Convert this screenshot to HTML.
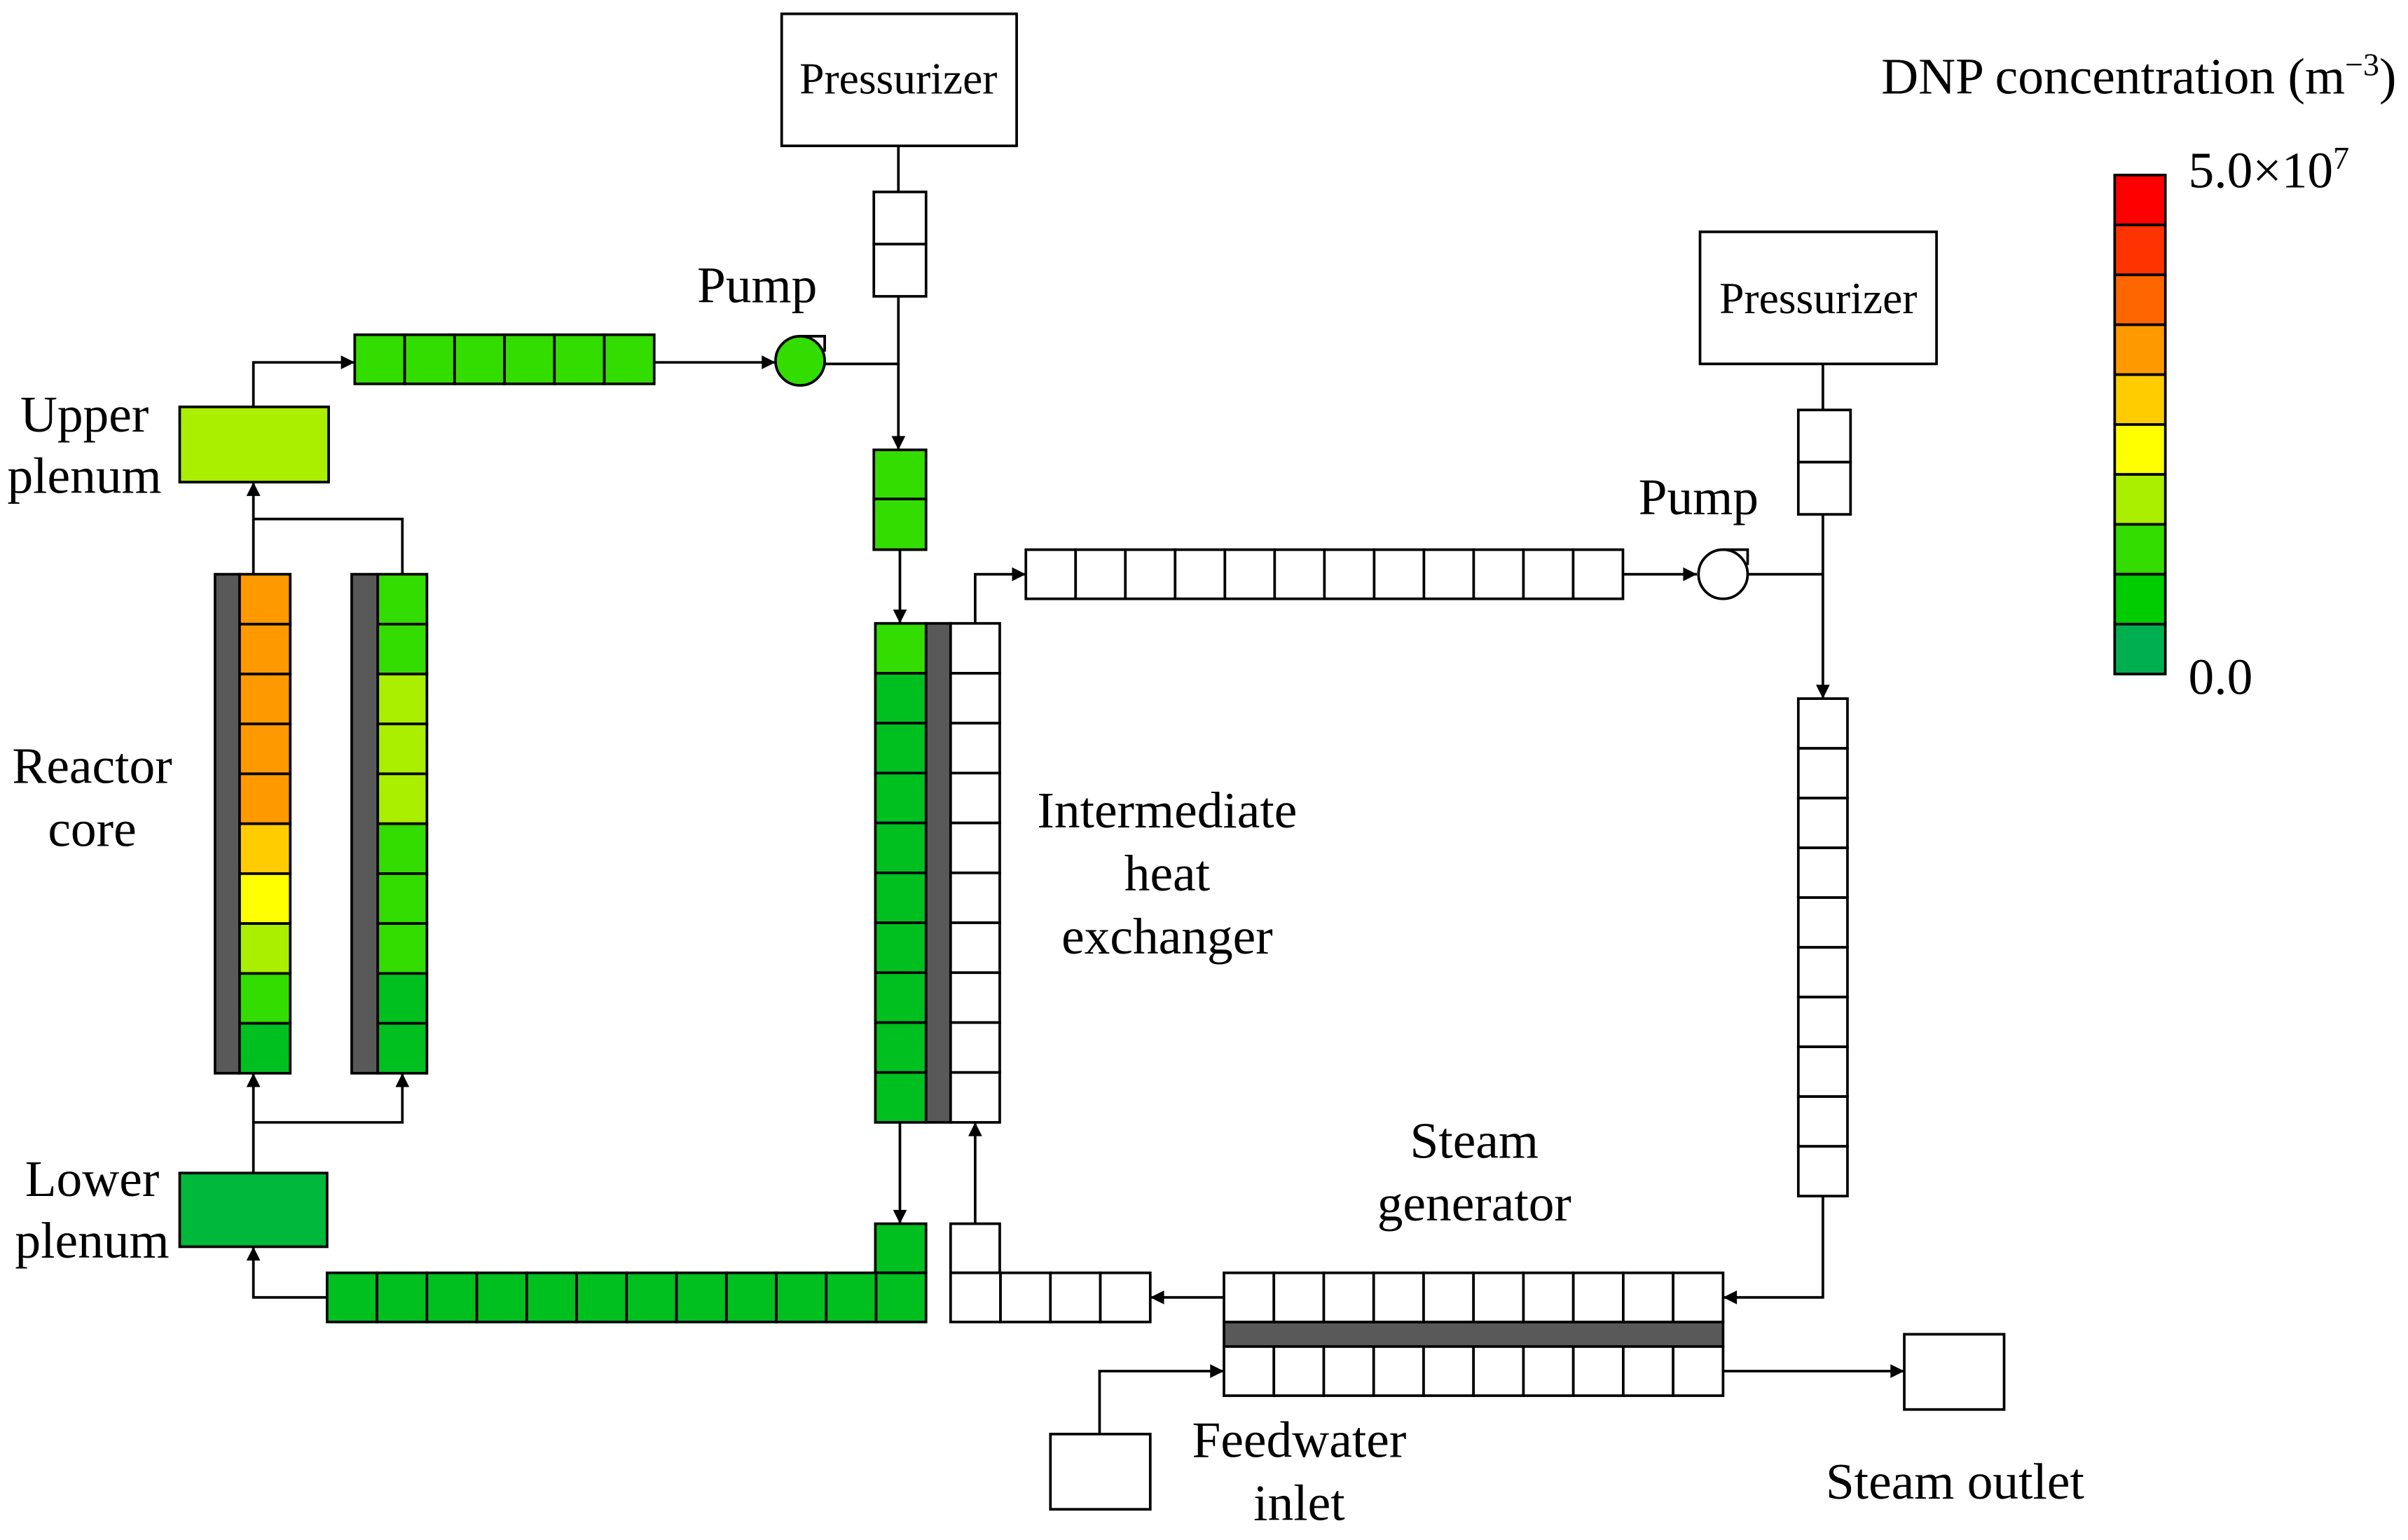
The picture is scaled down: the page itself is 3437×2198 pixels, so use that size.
<!DOCTYPE html>
<html><head><meta charset="utf-8"><style>html,body{margin:0;padding:0;background:#fff}svg{display:block}</style></head><body>
<svg width="3437" height="2198" viewBox="0 0 1568 1003" preserveAspectRatio="none" xmlns="http://www.w3.org/2000/svg" font-family="'Liberation Serif', serif" font-size="33.5">
<defs><marker id="a" viewBox="0 0 10 10" refX="10" refY="5" markerWidth="11" markerHeight="9" orient="auto" markerUnits="userSpaceOnUse"><path d="M0,0 L10,5 L0,10 z" fill="#000"/></marker></defs>
<g fill="none" stroke="#000" stroke-width="1.7">
<path d="M585,95 V125"/><path d="M585,193 V293" marker-end="url(#a)"/><path d="M537,237 H585"/>
<path d="M426,236 H505" marker-end="url(#a)"/>
<path d="M165,265 V236 H231" marker-end="url(#a)"/>
<path d="M165,374 V314" marker-end="url(#a)"/><path d="M262,374 V338 H165"/>
<path d="M165,764 V699" marker-end="url(#a)"/><path d="M165,731 H262 V699" marker-end="url(#a)"/>
<path d="M213,845 H165 V812" marker-end="url(#a)"/>
<path d="M586,358 V406" marker-end="url(#a)"/><path d="M586,731 V797" marker-end="url(#a)"/>
<path d="M635,797 V731" marker-end="url(#a)"/><path d="M635,406 V374 H668" marker-end="url(#a)"/>
<path d="M1057,374 H1105" marker-end="url(#a)"/><path d="M1138,374 H1187"/>
<path d="M1187,237 V267"/><path d="M1187,335 V455" marker-end="url(#a)"/>
<path d="M1187,779 V845 H1122" marker-end="url(#a)"/>
<path d="M797,845 H749" marker-end="url(#a)"/>
<path d="M716,934 V893 H797" marker-end="url(#a)"/>
<path d="M1122,893 H1240" marker-end="url(#a)"/>
</g>
<g stroke="#000" stroke-width="1.7">
<rect x="509" y="9" width="153" height="86" fill="#fff"/>
<rect x="1107" y="151" width="154" height="86" fill="#fff"/>
<rect x="569" y="125" width="34" height="34" fill="#fff"/><rect x="569" y="159" width="34" height="34" fill="#fff"/>
<rect x="1171" y="267" width="34" height="34" fill="#fff"/><rect x="1171" y="301" width="34" height="34" fill="#fff"/>
<rect x="569" y="293" width="34" height="32" fill="#33dd00"/><rect x="569" y="325" width="34" height="33" fill="#33dd00"/>
<path d="M521,219 H537 V229" fill="#fff"/>
<circle cx="521" cy="235" r="16" fill="#33dd00"/>
<path d="M1122,358 H1138 V368" fill="#fff"/>
<circle cx="1122" cy="374" r="16" fill="#fff"/>
<rect x="117" y="265" width="97" height="49" fill="#aaee00"/>
<rect x="117" y="764" width="96" height="48" fill="#00b83a"/>
<rect x="140" y="374" width="16" height="325" fill="#595959"/>
<rect x="229" y="374" width="17" height="325" fill="#595959"/>
<rect x="603" y="406" width="16" height="325" fill="#595959"/>
<rect x="797" y="861" width="325" height="16" fill="#595959"/>
<rect x="570" y="797" width="33" height="32" fill="#00c020"/>
<rect x="619" y="797" width="32" height="32" fill="#fff"/>
<rect x="684" y="934" width="65" height="49" fill="#fff"/>
<rect x="1240" y="869" width="65" height="49" fill="#fff"/>

<g fill="#33dd00">
<rect x="231" y="218" width="32.5" height="32"/><rect x="263.5" y="218" width="32.5" height="32"/><rect x="296" y="218" width="32.5" height="32"/><rect x="328.5" y="218" width="32.5" height="32"/><rect x="361" y="218" width="32.5" height="32"/><rect x="393.5" y="218" width="32.5" height="32"/>
</g>
<g>
<rect x="156" y="374" width="33" height="32.5" fill="#ff9900"/><rect x="156" y="406.5" width="33" height="32.5" fill="#ff9900"/><rect x="156" y="439" width="33" height="32.5" fill="#ff9900"/><rect x="156" y="471.5" width="33" height="32.5" fill="#ff9900"/><rect x="156" y="504" width="33" height="32.5" fill="#ff9900"/><rect x="156" y="536.5" width="33" height="32.5" fill="#ffcc00"/><rect x="156" y="569" width="33" height="32.5" fill="#ffff00"/><rect x="156" y="601.5" width="33" height="32.5" fill="#aaee00"/><rect x="156" y="634" width="33" height="32.5" fill="#33dd00"/><rect x="156" y="666.5" width="33" height="32.5" fill="#00c020"/>
</g>
<g>
<rect x="246" y="374" width="32" height="32.5" fill="#33dd00"/><rect x="246" y="406.5" width="32" height="32.5" fill="#33dd00"/><rect x="246" y="439" width="32" height="32.5" fill="#aaee00"/><rect x="246" y="471.5" width="32" height="32.5" fill="#aaee00"/><rect x="246" y="504" width="32" height="32.5" fill="#aaee00"/><rect x="246" y="536.5" width="32" height="32.5" fill="#33dd00"/><rect x="246" y="569" width="32" height="32.5" fill="#33dd00"/><rect x="246" y="601.5" width="32" height="32.5" fill="#33dd00"/><rect x="246" y="634" width="32" height="32.5" fill="#00c020"/><rect x="246" y="666.5" width="32" height="32.5" fill="#00c020"/>
</g>
<g fill="#00c020">
<rect x="570" y="406" width="33" height="32.5" fill="#33dd00"/><rect x="570" y="438.5" width="33" height="32.5"/><rect x="570" y="471" width="33" height="32.5"/><rect x="570" y="503.5" width="33" height="32.5"/><rect x="570" y="536" width="33" height="32.5"/><rect x="570" y="568.5" width="33" height="32.5"/><rect x="570" y="601" width="33" height="32.5"/><rect x="570" y="633.5" width="33" height="32.5"/><rect x="570" y="666" width="33" height="32.5"/><rect x="570" y="698.5" width="33" height="32.5"/>
</g>
<g fill="#fff">
<rect x="619" y="406" width="32" height="32.5"/><rect x="619" y="438.5" width="32" height="32.5"/><rect x="619" y="471" width="32" height="32.5"/><rect x="619" y="503.5" width="32" height="32.5"/><rect x="619" y="536" width="32" height="32.5"/><rect x="619" y="568.5" width="32" height="32.5"/><rect x="619" y="601" width="32" height="32.5"/><rect x="619" y="633.5" width="32" height="32.5"/><rect x="619" y="666" width="32" height="32.5"/><rect x="619" y="698.5" width="32" height="32.5"/>
</g>
<g fill="#00c020">
<rect x="213" y="829" width="32.5" height="32"/><rect x="245.5" y="829" width="32.5" height="32"/><rect x="278" y="829" width="32.5" height="32"/><rect x="310.5" y="829" width="32.5" height="32"/><rect x="343" y="829" width="32.5" height="32"/><rect x="375.5" y="829" width="32.5" height="32"/><rect x="408" y="829" width="32.5" height="32"/><rect x="440.5" y="829" width="32.5" height="32"/><rect x="473" y="829" width="32.5" height="32"/><rect x="505.5" y="829" width="32.5" height="32"/><rect x="538" y="829" width="32.5" height="32"/><rect x="570.5" y="829" width="32.5" height="32"/>
</g>
<g fill="#fff">
<rect x="668" y="358" width="32.4" height="32"/><rect x="700.4" y="358" width="32.4" height="32"/><rect x="732.8" y="358" width="32.4" height="32"/><rect x="765.2" y="358" width="32.4" height="32"/><rect x="797.6" y="358" width="32.4" height="32"/><rect x="830" y="358" width="32.4" height="32"/><rect x="862.4" y="358" width="32.4" height="32"/><rect x="894.8" y="358" width="32.4" height="32"/><rect x="927.2" y="358" width="32.4" height="32"/><rect x="959.6" y="358" width="32.4" height="32"/><rect x="992" y="358" width="32.4" height="32"/><rect x="1024.4" y="358" width="32.4" height="32"/>
</g>
<g fill="#fff">
<rect x="1171" y="455" width="32" height="32.4"/><rect x="1171" y="487.4" width="32" height="32.4"/><rect x="1171" y="519.8" width="32" height="32.4"/><rect x="1171" y="552.2" width="32" height="32.4"/><rect x="1171" y="584.6" width="32" height="32.4"/><rect x="1171" y="617" width="32" height="32.4"/><rect x="1171" y="649.4" width="32" height="32.4"/><rect x="1171" y="681.8" width="32" height="32.4"/><rect x="1171" y="714.2" width="32" height="32.4"/><rect x="1171" y="746.6" width="32" height="32.4"/>
</g>
<g fill="#fff">
<rect x="797" y="829" width="32.5" height="32"/><rect x="829.5" y="829" width="32.5" height="32"/><rect x="862" y="829" width="32.5" height="32"/><rect x="894.5" y="829" width="32.5" height="32"/><rect x="927" y="829" width="32.5" height="32"/><rect x="959.5" y="829" width="32.5" height="32"/><rect x="992" y="829" width="32.5" height="32"/><rect x="1024.5" y="829" width="32.5" height="32"/><rect x="1057" y="829" width="32.5" height="32"/><rect x="1089.5" y="829" width="32.5" height="32"/>
<rect x="797" y="877" width="32.5" height="32"/><rect x="829.5" y="877" width="32.5" height="32"/><rect x="862" y="877" width="32.5" height="32"/><rect x="894.5" y="877" width="32.5" height="32"/><rect x="927" y="877" width="32.5" height="32"/><rect x="959.5" y="877" width="32.5" height="32"/><rect x="992" y="877" width="32.5" height="32"/><rect x="1024.5" y="877" width="32.5" height="32"/><rect x="1057" y="877" width="32.5" height="32"/><rect x="1089.5" y="877" width="32.5" height="32"/>
<rect x="619" y="829" width="32.5" height="32"/><rect x="651.5" y="829" width="32.5" height="32"/><rect x="684" y="829" width="32.5" height="32"/><rect x="716.5" y="829" width="32.5" height="32"/>
</g>
<g>
<rect x="1377" y="114" width="33" height="32.5" fill="#ff0000"/><rect x="1377" y="146.5" width="33" height="32.5" fill="#ff3300"/><rect x="1377" y="179" width="33" height="32.5" fill="#ff6600"/><rect x="1377" y="211.5" width="33" height="32.5" fill="#ff9900"/><rect x="1377" y="244" width="33" height="32.5" fill="#ffcc00"/><rect x="1377" y="276.5" width="33" height="32.5" fill="#ffff00"/><rect x="1377" y="309" width="33" height="32.5" fill="#aaee00"/><rect x="1377" y="341.5" width="33" height="32.5" fill="#33dd00"/><rect x="1377" y="374" width="33" height="32.5" fill="#00cc00"/><rect x="1377" y="406.5" width="33" height="32.5" fill="#00b050"/>
</g>
</g>
<g fill="#000" text-anchor="middle">
<text x="585" y="61" font-size="29">Pressurizer</text><text x="1184" y="204" font-size="29">Pressurizer</text>
<text x="493" y="197">Pump</text><text x="1106" y="335">Pump</text>
<text x="55" y="281">Upper</text><text x="55" y="321">plenum</text>
<text x="60" y="510">Reactor</text><text x="60" y="551">core</text>
<text x="60" y="779">Lower</text><text x="60" y="819">plenum</text>
<text x="760" y="539">Intermediate</text><text x="760" y="580">heat</text><text x="760" y="621">exchanger</text>
<text x="960" y="754">Steam</text><text x="960" y="795">generator</text>
<text x="846" y="949">Feedwater</text><text x="846" y="990">inlet</text>
<text x="1273" y="976">Steam outlet</text>
</g>
<text x="1225" y="61">DNP concentration (m<tspan font-size="21" dy="-12">−3</tspan><tspan dy="12">)</tspan></text>
<text x="1425" y="122">5.0×10<tspan font-size="21" dy="-12">7</tspan></text>
<text x="1425" y="452">0.0</text>
</svg>
</body></html>
